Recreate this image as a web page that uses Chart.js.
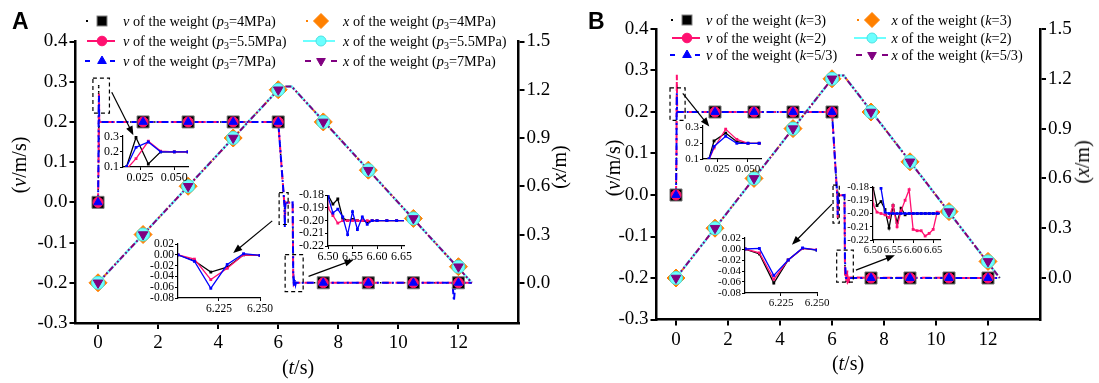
<!DOCTYPE html>
<html lang="en">
<head>
<meta charset="UTF-8">
<title>Velocity and displacement of the weight</title>
<script src="https://cdn.jsdelivr.net/npm/chart.js"></script>
<style>
  body { margin: 0; background: #fff; }
  #fig { position: relative; width: 1099px; height: 383px; overflow: hidden;
         font-family: "Liberation Serif", "DejaVu Serif", Tinos, "Times New Roman", serif; color: #000; }
  #fig canvas { position: absolute; }
  #fig svg { position: absolute; overflow: visible; }
  .leg { position: absolute; font-size: 14.3px; line-height: 18px; height: 18px; white-space: nowrap; }
  .leg sub { font-size: 70%; line-height: 0; vertical-align: -0.3em; }
  .ttl { position: absolute; font-size: 20px; line-height: 20px; white-space: nowrap; transform: translate(-50%, -50%); }
  .ttl.rot { transform: translate(-50%, -50%) rotate(-90deg); }
  .pn { position: absolute; font: bold 23px/23px "Liberation Sans", Arial, sans-serif; }
</style>
</head>
<body>
<div id="fig">
  <canvas id="mainA" width="1099" height="383" style="left:0;top:0"></canvas>
  <canvas id="mainB" width="1099" height="383" style="left:0;top:0"></canvas>
</div>
<script>
// markers, same sample times in both panels
const markT = [0, 1.5, 3, 4.5, 6, 7.5, 9, 10.5, 12];
const markV = [0, 0.2, 0.2, 0.2, 0.2, -0.2, -0.2, -0.2, -0.2];
const markX = [0, 0.3, 0.6, 0.9, 1.2, 1.0, 0.7, 0.4, 0.1];

// displacement of the weight (the three cases overlap)
const xLineT = [0, 6.0, 6.1, 6.25, 6.45, 12.45];
const xLineX = [0, 1.2, 1.212, 1.22, 1.22, 0.0];

// panel A: velocity, p3 = 4 / 5.5 / 7 MPa
const tA = [0, 0.015, 0.022, 0.031, 0.040, 0.050, 0.060,
            6.0, 6.20, 6.21, 6.22, 6.23, 6.24, 6.25,
            6.48,
            6.50, 6.51, 6.52, 6.53, 6.54, 6.55, 6.56, 6.57, 6.58, 6.59, 6.60,
            6.62, 6.64, 6.66,
            11.80, 11.85, 11.90,
            12.45];
const vA4 = [0, 0.10, 0.295, 0.12, 0.20, 0.20, 0.20,
             0.20, 0.000, -0.011, -0.032, -0.023, 0.000, -0.001,
             0.000,
             -0.180, -0.187, -0.183, -0.198, -0.200, -0.199, -0.200, -0.200, -0.201, -0.200, -0.200,
             -0.200, -0.200, -0.200,
             -0.200, -0.200, -0.200,
             -0.200];
const vA55 = [0, 0.085, 0.155, 0.27, 0.205, 0.20, 0.20,
              0.20, 0.000, -0.008, -0.046, -0.025, 0.000, -0.001,
              0.000,
              -0.190, -0.196, -0.202, -0.200, -0.200, -0.200, -0.200, -0.200, -0.200, -0.200, -0.200,
              -0.200, -0.200, -0.200,
              -0.200, -0.200, -0.200,
              -0.200];
const vA7 = [0, 0.10, 0.23, 0.265, 0.20, 0.20, 0.20,
             0.20, 0.000, -0.012, -0.062, -0.018, 0.002, -0.001,
             0.000,
             -0.181, -0.194, -0.191, -0.197, -0.211, -0.193, -0.207, -0.197, -0.203, -0.200, -0.200,
             -0.200, -0.200, -0.200,
             -0.200, -0.245, -0.200,
             -0.200];

// panel B: velocity, k = 3 / 2 / 5/3
const tB = [0, 0.0185, 0.0226, 0.032, 0.041, 0.050, 0.059,
            6.0, 6.20, 6.21, 6.22, 6.23, 6.24, 6.25,
            6.48,
            6.50, 6.51, 6.52, 6.53, 6.54, 6.55, 6.56, 6.57, 6.58, 6.59, 6.60, 6.61, 6.62, 6.63, 6.64, 6.65, 6.66,
            12.45];
const vB3 = [0, 0.10, 0.215, 0.265, 0.21, 0.20, 0.20,
             0.20, 0.000, -0.009, -0.062, -0.020, 0.001, -0.002,
             0.000,
             -0.180, -0.194, -0.191, -0.197, -0.211, -0.194, -0.207, -0.196, -0.201, -0.200, -0.200, -0.200, -0.200, -0.200, -0.200, -0.200, -0.200,
             -0.200];
const vB2 = [0, 0.095, 0.17, 0.29, 0.225, 0.20, 0.20,
             0.20, 0.000, -0.007, -0.055, -0.020, 0.001, -0.001,
             0.000,
             -0.193, -0.199, -0.200, -0.201, -0.203, -0.194, -0.210, -0.198, -0.190, -0.182, -0.212, -0.213, -0.213, -0.217, -0.215, -0.212, -0.199,
             -0.200];
const vB53 = [0, 0.10, 0.18, 0.245, 0.20, 0.20, 0.20,
              0.20, 0.000, 0.001, -0.048, -0.020, 0.002, -0.002,
              0.000,
              -0.160, -0.170, -0.181, -0.199, -0.200, -0.200, -0.200, -0.200, -0.200, -0.200, -0.200, -0.200, -0.200, -0.200, -0.200, -0.200, -0.200,
              -0.200];

// tick labels
const vTicks = [-0.3, -0.2, -0.1, 0, 0.1, 0.2, 0.3, 0.4];
const xTicks = [0, 0.3, 0.6, 0.9, 1.2, 1.5];
const tTicks = [0, 2, 4, 6, 8, 10, 12];
const startTicksT = [0.025, 0.05];
const startTicksV = [0.1, 0.2, 0.3];
const dipTicksT = [6.225, 6.25];
const dipTicksV = [0.02, 0, -0.02, -0.04, -0.06, -0.08];
const settleTicksT = [6.5, 6.55, 6.6, 6.65];
const settleTicksV = [-0.18, -0.19, -0.2, -0.21, -0.22];

// legend labels
const legVA = ['<i>v</i> of the weight (<i>p</i><sub>3</sub>=4MPa)',
               '<i>v</i> of the weight (<i>p</i><sub>3</sub>=5.5MPa)',
               '<i>v</i> of the weight (<i>p</i><sub>3</sub>=7MPa)'];
const legXA = ['<i>x</i> of the weight (<i>p</i><sub>3</sub>=4MPa)',
               '<i>x</i> of the weight (<i>p</i><sub>3</sub>=5.5MPa)',
               '<i>x</i> of the weight (<i>p</i><sub>3</sub>=7MPa)'];
const legVB = ['<i>v</i> of the weight (<i>k</i>=3)',
               '<i>v</i> of the weight (<i>k</i>=2)',
               '<i>v</i> of the weight (<i>k</i>=5/3)'];
const legXB = ['<i>x</i> of the weight (<i>k</i>=3)',
               '<i>x</i> of the weight (<i>k</i>=2)',
               '<i>x</i> of the weight (<i>k</i>=5/3)'];

// zoom boxes and arrows, in (t, v) units
const boxesA = [[-0.17, 0.309, 0.38, 0.222], [6.03, 0.024, 6.33, -0.055], [6.23, -0.13, 6.83, -0.222]];
const arrowsA = [[0.457, 0.274, 1.177, 0.167], [5.8, -0.046, 4.5, -0.126], [7.01, -0.184, 8.51, -0.143]];
const boxesB = [[-0.23, 0.258, 0.35, 0.18], [6.04, 0.024, 6.28, -0.068], [6.18, -0.133, 6.82, -0.21]];
const arrowsB = [[0.26, 0.245, 1.28, 0.165], [6.0, -0.022, 4.46, -0.12], [6.92, -0.181, 8.42, -0.145]];

const PINK = '#FF1070', BLUE = '#0000FF', ORANGE = '#FF8000', CYAN = '#6BFFFF', PURPLE = '#800080';
const SERIF = '"Liberation Serif", "DejaVu Serif", Tinos, "Times New Roman", serif';
const fig = document.getElementById('fig');

const vStyle = [
  {color: '#000', dash: [1.5, 4.5], lw: 1.5, shape: 'rect', r: 8.5, fill: '#000', edge: '#777', legR: 7, segs: [[4, 6]]},
  {color: PINK, dash: [9, 4], lw: 2, shape: 'circle', r: 5, fill: PINK, edge: PINK, legR: 4.8, segs: [[5, 33]]},
  {color: BLUE, dash: [7, 3, 2, 3], lw: 2, shape: 'triangle', r: 4.8, fill: BLUE, edge: BLUE, legR: 5, segs: [[3, 8], [28, 33]]}
];
const xStyle = [
  {color: ORANGE, dash: [2, 3], lw: 2, shape: 'rectRot', r: 9, fill: ORANGE, edge: ORANGE, legR: 7.5, segs: [[5, 7]]},
  {color: CYAN, dash: [10, 3], lw: 2.5, shape: 'circle', r: 6.5, fill: CYAN, edge: '#4CE0E0', legR: 5, segs: [[2, 34]]},
  {color: PURPLE, dash: [6, 2, 2, 2, 2, 2], lw: 2, shape: 'triangle', rot: 180, r: 5.5, fill: PURPLE, edge: PURPLE, legR: 5, segs: [[4, 10], [30, 36]]}
];

const pts = (ts, vs) => ts.map((t, i) => ({x: t, y: vs[i]}));

function mainSets(tv, vSeries) {
  const sets = [];
  vSeries.forEach((vs, i) => {
    const s = vStyle[i];
    sets.push({data: pts(tv, vs), yAxisID: 'y', borderColor: s.color, borderWidth: s.lw, borderDash: s.dash, pointRadius: 0, order: 40 - i});
    sets.push({data: pts(markT, markV), yAxisID: 'y', showLine: false, pointStyle: s.shape, pointRadius: s.r,
               backgroundColor: s.fill, borderColor: s.edge, borderWidth: 1, order: 10 - i});
  });
  xStyle.forEach((s, i) => {
    sets.push({data: pts(xLineT, xLineX), yAxisID: 'y2', borderColor: s.color, borderWidth: s.lw, borderDash: s.dash, pointRadius: 0, order: 30 - i});
    sets.push({data: pts(markT, markX), yAxisID: 'y2', showLine: false, pointStyle: s.shape, pointRotation: s.rot || 0,
               pointRadius: s.r, backgroundColor: s.fill, borderColor: s.edge, borderWidth: 1, order: 6 - i});
  });
  return sets;
}

function mainAxis(position, min, max, ticks, digits, size) {
  const horiz = position === 'bottom';
  return {
    type: 'linear', position, min, max,
    afterFit: s => { if (horiz) s.height = size; else s.width = size; },
    afterBuildTicks: s => { s.ticks = ticks.map(v => ({value: v})); },
    ticks: {callback: v => v.toFixed(digits), font: {family: SERIF, size: 19}, color: '#000',
            padding: horiz ? 3 : 2, autoSkip: false, maxRotation: 0},
    grid: {drawOnChartArea: false, tickLength: 6, color: '#000', lineWidth: 2},
    border: {color: '#000', width: 2.5}
  };
}

function notes(boxes, arrows) {
  return {
    id: 'notes',
    afterDatasetsDraw(chart) {
      const {ctx, scales: {x, y}} = chart;
      ctx.save();
      ctx.strokeStyle = '#000';
      ctx.fillStyle = '#000';
      ctx.lineWidth = 1.2;
      ctx.setLineDash([4, 3]);
      boxes.forEach(b => {
        const x1 = x.getPixelForValue(b[0]), y1 = y.getPixelForValue(b[1]);
        const x2 = x.getPixelForValue(b[2]), y2 = y.getPixelForValue(b[3]);
        ctx.strokeRect(x1, y1, x2 - x1, y2 - y1);
      });
      ctx.setLineDash([]);
      arrows.forEach(a => {
        const x1 = x.getPixelForValue(a[0]), y1 = y.getPixelForValue(a[1]);
        const x2 = x.getPixelForValue(a[2]), y2 = y.getPixelForValue(a[3]);
        const ang = Math.atan2(y2 - y1, x2 - x1);
        ctx.beginPath();
        ctx.moveTo(x1, y1);
        ctx.lineTo(x2 - 6 * Math.cos(ang), y2 - 6 * Math.sin(ang));
        ctx.stroke();
        ctx.beginPath();
        ctx.moveTo(x2, y2);
        ctx.lineTo(x2 - 9 * Math.cos(ang) + 3.5 * Math.sin(ang), y2 - 9 * Math.sin(ang) - 3.5 * Math.cos(ang));
        ctx.lineTo(x2 - 9 * Math.cos(ang) - 3.5 * Math.sin(ang), y2 - 9 * Math.sin(ang) + 3.5 * Math.cos(ang));
        ctx.closePath();
        ctx.fill();
      });
      ctx.restore();
    }
  };
}

function mainChart(id, tv, vSeries, pad, boxes, arrows) {
  return new Chart(document.getElementById(id), {
    type: 'line',
    data: {datasets: mainSets(tv, vSeries)},
    options: {
      responsive: false, animation: false, events: [],
      layout: {padding: pad},
      plugins: {legend: {display: false}, tooltip: {enabled: false}},
      scales: {
        x: mainAxis('bottom', -0.75, 14, tTicks, 0, 40),
        y: mainAxis('left', -0.3, 0.4, vTicks, 1, 45),
        y2: mainAxis('right', -0.25, 1.5, xTicks, 1, 45)
      }
    },
    plugins: [notes(boxes, arrows)]
  });
}

mainChart('mainA', tA, [vA4, vA55, vA7], {left: 30.5, right: 535.5, top: 41.5, bottom: 20}, boxesA, arrowsA);
mainChart('mainB', tB, [vB3, vB2, vB53], {left: 611.5, right: 14, top: 29, bottom: 23.5}, boxesB, arrowsB);

// insets: zoomed views of the same velocity traces
function makeInset(spec, tv, vSeries) {
  const yW = 34, xH = 18, padT = 8, padR = 22;
  const c = document.createElement('canvas');
  c.width = spec.R - spec.L + yW + padR;
  c.height = spec.B - spec.T + padT + xH;
  c.style.left = (spec.L - yW) + 'px';
  c.style.top = (spec.T - padT) + 'px';
  fig.appendChild(c);
  const font = {family: SERIF, size: spec.fs};
  const ax = (position, range, ticks, digits) => ({
    type: 'linear', position, min: range[0], max: range[1],
    afterFit: s => { if (position === 'bottom') s.height = xH; else s.width = yW; },
    afterBuildTicks: s => { s.ticks = ticks.map(v => ({value: v})); },
    ticks: {callback: v => v.toFixed(digits), font, color: '#000', padding: 1, autoSkip: false, maxRotation: 0},
    grid: {drawOnChartArea: false, tickLength: 3, color: '#000', lineWidth: 1},
    border: {color: '#000', width: 1.2}
  });
  new Chart(c, {
    type: 'line',
    data: {datasets: vSeries.map((vs, i) => ({
      data: pts(tv, vs), borderColor: vStyle[i].color, backgroundColor: vStyle[i].color,
      borderWidth: 1.3, pointStyle: 'rect', pointRadius: 2, pointBorderWidth: 0, order: 3 - i
    }))},
    options: {
      responsive: false, animation: false, events: [],
      layout: {padding: {left: 0, right: padR, top: padT, bottom: 0}},
      plugins: {legend: {display: false}, tooltip: {enabled: false}},
      scales: {x: ax('bottom', spec.tr, spec.tt, spec.td), y: ax('left', spec.vr, spec.vt, spec.vd)}
    }
  });
}

[
  {L: 123, R: 188, T: 135, B: 167, tr: [0.0125, 0.06], vr: [0.1, 0.31], tt: startTicksT, vt: startTicksV, td: 3, vd: 1, fs: 12},
  {L: 178, R: 260, T: 244, B: 298, tr: [6.2, 6.25], vr: [-0.08, 0.02], tt: dipTicksT, vt: dipTicksV, td: 3, vd: 2, fs: 11.5},
  {L: 328, R: 404, T: 195, B: 246, tr: [6.5, 6.655], vr: [-0.22, -0.18], tt: settleTicksT, vt: settleTicksV, td: 2, vd: 2, fs: 12}
].forEach(s => makeInset(s, tA, [vA4, vA55, vA7]));

[
  {L: 703, R: 761, T: 126, B: 159, tr: [0.0137, 0.0605], vr: [0.1, 0.31], tt: startTicksT, vt: startTicksV, td: 3, vd: 1, fs: 11},
  {L: 745, R: 817, T: 238, B: 293, tr: [6.2, 6.25], vr: [-0.08, 0.02], tt: dipTicksT, vt: dipTicksV, td: 3, vd: 2, fs: 11},
  {L: 873, R: 940, T: 187, B: 240, tr: [6.5, 6.667], vr: [-0.22, -0.18], tt: settleTicksT, vt: settleTicksV, td: 2, vd: 2, fs: 10.5}
].forEach(s => makeInset(s, tB, [vB3, vB2, vB53]));

// legends
function markerSVG(s, cx, cy) {
  const r = s.legR;
  const paint = `fill="${s.fill}" stroke="${s.edge}" stroke-width="1"`;
  if (s.shape === 'rect') { const h = r * Math.SQRT1_2; return `<rect x="${cx - h}" y="${cy - h}" width="${2 * h}" height="${2 * h}" ${paint}/>`; }
  if (s.shape === 'circle') return `<circle cx="${cx}" cy="${cy}" r="${r}" ${paint}/>`;
  if (s.shape === 'rectRot') return `<polygon points="${cx},${cy - r} ${cx + r},${cy} ${cx},${cy + r} ${cx - r},${cy}" ${paint}/>`;
  const d = s.rot ? -1 : 1;
  return `<polygon points="${cx},${cy - d * r} ${cx + 0.866 * r},${cy + d * r / 2} ${cx - 0.866 * r},${cy + d * r / 2}" ${paint}/>`;
}

function legendRow(s, html, symLeft, textLeft, yc) {
  let svg = `<svg width="40" height="18" style="left:${symLeft}px;top:${yc - 9}px">`;
  s.segs.forEach(g => { svg += `<line x1="${g[0]}" y1="9" x2="${g[1]}" y2="9" stroke="${s.color}" stroke-width="2"/>`; });
  svg += markerSVG(s, 20, 9) + '</svg>';
  fig.insertAdjacentHTML('beforeend', svg);
  fig.insertAdjacentHTML('beforeend', `<div class="leg" style="left:${textLeft}px;top:${yc - 9}px">${html}</div>`);
}

[21.3, 41.3, 61.3].forEach((yc, i) => {
  legendRow(vStyle[i], legVA[i], 82, 123, yc);
  legendRow(xStyle[i], legXA[i], 301, 343, yc);
});
[20, 38, 55].forEach((yc, i) => {
  legendRow(vStyle[i], legVB[i], 666.5, 706, yc);
  legendRow(xStyle[i], legXB[i], 851.5, 891.5, yc);
});

// axis titles and panel letters
[
  {html: '(<i>v</i>/m/s)', x: 19, y: 165, rot: true},
  {html: '(<i>x</i>/m)', x: 559, y: 167, rot: true},
  {html: '(<i>t</i>/s)', x: 298, y: 367},
  {html: '(<i>v</i>/m/s)', x: 613, y: 168, rot: true},
  {html: '(<i>x</i>/m)', x: 1082, y: 162, rot: true},
  {html: '(<i>t</i>/s)', x: 848, y: 363}
].forEach(t => {
  fig.insertAdjacentHTML('beforeend', `<div class="ttl${t.rot ? ' rot' : ''}" style="left:${t.x}px;top:${t.y}px">${t.html}</div>`);
});
fig.insertAdjacentHTML('beforeend', '<div class="pn" style="left:12px;top:10px">A</div>');
fig.insertAdjacentHTML('beforeend', '<div class="pn" style="left:588px;top:10px">B</div>');
</script>
</body>
</html>
